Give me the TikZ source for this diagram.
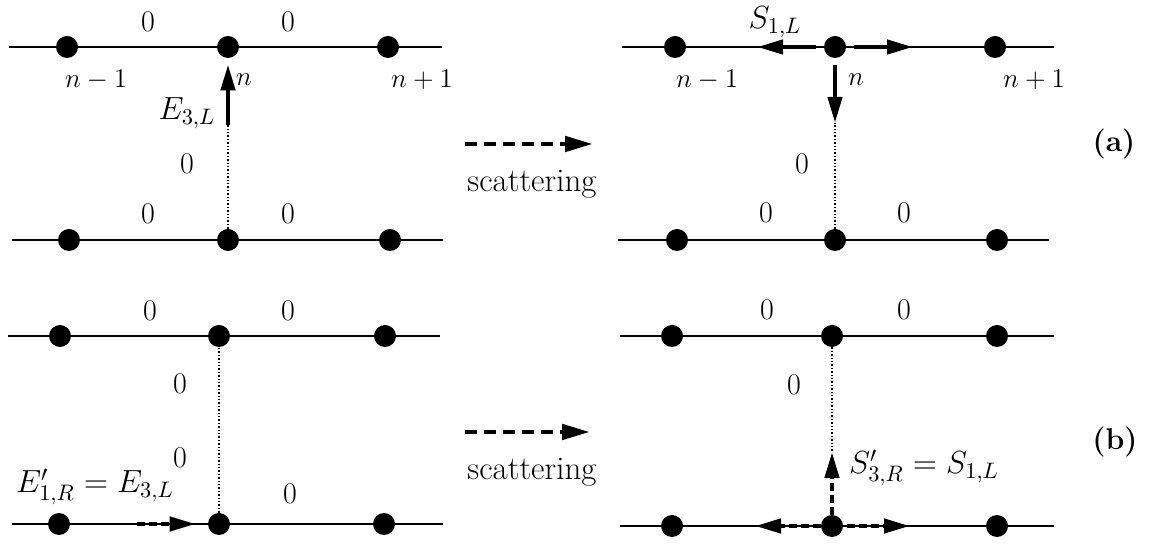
\RequirePackage{fix-cm}
\documentclass[tikz,border=0pt]{standalone}
\usetikzlibrary{arrows.meta}
\begin{document}
\begin{tikzpicture}[
        x=0.5pt,y=-0.5pt,
        site/.style={circle,fill=black,inner sep=0pt,minimum size=11pt},
        chain/.style={line width=0.7pt},
        link/.style={densely dotted,line width=0.7pt},
        flux/.style={line width=2.2pt,-{Triangle[length=13pt,width=7pt]}},
        dflux/.style={flux,dash pattern=on 4pt off 2pt},
        hop/.style={line width=2.4pt,dash pattern=on 6pt off 3.5pt,-{Triangle[length=14pt,width=7.5pt]}},
        val/.style={font=\fontsize{15}{18}\selectfont},
        fld/.style={font=\fontsize{16}{19}\selectfont},
        word/.style={font=\fontsize{16.5}{19}\selectfont},
        idx/.style={font=\fontsize{13.5}{16}\selectfont},
        tag/.style={font=\fontsize{15}{18}\selectfont\bfseries},
        ]
    \useasboundingbox (0,0) rectangle (1157,544);

    % (a) before scattering
    \coordinate (aLtW) at (9,47);   \coordinate (aLtE) at (442,47);
    \coordinate (aLbW) at (12,240); \coordinate (aLbE) at (443,240);
    \draw[chain] (aLtW) -- (aLtE);
    \draw[chain] (aLbW) -- (aLbE);
    \node[site] (aLt1) at (67,47) {};
    \node[site] (aLt2) at (228,47) {};
    \node[site] (aLt3) at (388,47) {};
    \node[site] (aLb1) at (69,240) {};
    \node[site] (aLb2) at (228,240) {};
    \node[site] (aLb3) at (390,240) {};
    \coordinate (aEs) at (228,125);
    \draw[link] (aLb2) -- (aEs);
    \draw[flux,shorten >=3pt] (aEs) -- (aLt2);
    \node[val] (aLv1) at (148,22) {0};
    \node[val] (aLv2) at (288,22) {0};
    \node[val] (aLv3) at (187,164) {0};
    \node[val] (aLv4) at (148,214) {0};
    \node[val] (aLv5) at (288,214) {0};
    \node[idx] (aLn1) at (96,80) {$n-1$};
    \node[idx] (aLn2) at (244,80) {$n$};
    \node[idx] (aLn3) at (422,80) {$n+1$};
    \node[fld] (aE) at (187,113) {$E_{3,L}$};

    % scattering (a)
    \coordinate (aHs) at (465,144); \coordinate (aHe) at (593,144);
    \draw[hop] (aHs) -- (aHe);
    \node[word] (aH) at (532,184) {scattering};
    \node[tag] (atag) at (1114,144) {(a)};

    % (a) after scattering
    \coordinate (aRtW) at (622,47);  \coordinate (aRtE) at (1054,47);
    \coordinate (aRbW) at (618,240); \coordinate (aRbE) at (1049,240);
    \draw[chain] (aRtW) -- (aRtE);
    \draw[chain] (aRbW) -- (aRbE);
    \node[site] (aRt1) at (675,47) {};
    \node[site] (aRt2) at (835,47) {};
    \node[site] (aRt3) at (995,47) {};
    \node[site] (aRb1) at (677,240) {};
    \node[site] (aRb2) at (835,240) {};
    \node[site] (aRb3) at (997,240) {};
    \coordinate (aRl) at (757,47);
    \coordinate (aRr) at (913,47);
    \coordinate (aRd) at (835,123);
    \draw[link] (aRb2) -- (aRd);
    \draw[flux,shorten <=4pt] (aRt2) -- (aRl);
    \draw[flux,shorten <=4pt] (aRt2) -- (aRr);
    \draw[flux,shorten <=3.5pt] (aRt2) -- (aRd);
    \node[val] (aRv1) at (802,164) {0};
    \node[val] (aRv2) at (766,213) {0};
    \node[val] (aRv3) at (904,213) {0};
    \node[idx] (aRn1) at (707,80) {$n-1$};
    \node[idx] (aRn2) at (856,80) {$n$};
    \node[idx] (aRn3) at (1034,80) {$n+1$};
    \node[fld] (aS) at (775,22) {$S_{1,L}$};

    % (b) before scattering
    \coordinate (bLtW) at (8,336);  \coordinate (bLtE) at (440,336);
    \coordinate (bLbW) at (12,524); \coordinate (bLbE) at (443,524);
    \draw[chain] (bLtW) -- (bLtE);
    \draw[chain] (bLbW) -- (bLbE);
    \node[site] (bLt1) at (60,336) {};
    \node[site] (bLt2) at (219,336) {};
    \node[site] (bLt3) at (385,336) {};
    \node[site] (bLb1) at (59,524) {};
    \node[site] (bLb2) at (219,524) {};
    \node[site] (bLb3) at (384,524) {};
    \coordinate (bEs) at (137,524);
    \draw[link] (bLb2) -- (bLt2);
    \draw[dflux,shorten >=6pt] (bEs) -- (bLb2);
    \node[val] (bLv1) at (150,311) {0};
    \node[val] (bLv2) at (288,311) {0};
    \node[val] (bLv3) at (180,384) {0};
    \node[val] (bLv4) at (180,458) {0};
    \node[val] (bLv5) at (290,494) {0};
    \node[fld] (bE) at (95,487) {$E'_{1,R}=E_{3,L}$};

    % scattering (b)
    \coordinate (bHs) at (465,432); \coordinate (bHe) at (590,432);
    \draw[hop] (bHs) -- (bHe);
    \node[word] (bH) at (532,472) {scattering};
    \node[tag] (btag) at (1115,442) {(b)};

    % (b) after scattering
    \coordinate (bRtW) at (620,336); \coordinate (bRtE) at (1054,336);
    \coordinate (bRbW) at (620,526); \coordinate (bRbE) at (1054,526);
    \draw[chain] (bRtW) -- (bRtE);
    \draw[chain] (bRbW) -- (bRbE);
    \node[site] (bRt1) at (672,336) {};
    \node[site] (bRt2) at (832,336) {};
    \node[site] (bRt3) at (997,336) {};
    \node[site] (bRb1) at (672,526) {};
    \node[site] (bRb2) at (832,526) {};
    \node[site] (bRb3) at (997,526) {};
    \coordinate (bRl) at (755,526);
    \coordinate (bRr) at (910,526);
    \coordinate (bRu) at (832,452);
    \draw[link] (bRt2) -- (bRu);
    \draw[dflux] (bRb2) -- (bRu);
    \draw[dflux] (bRb2) -- (bRl);
    \draw[dflux,shorten <=2pt] (bRb2) -- (bRr);
    \node[val] (bRv1) at (767,310) {0};
    \node[val] (bRv2) at (904,310) {0};
    \node[val] (bRv3) at (794,385) {0};
    \node[fld] (bS) at (924,468) {$S'_{3,R}=S_{1,L}$};
\end{tikzpicture}
\end{document}
